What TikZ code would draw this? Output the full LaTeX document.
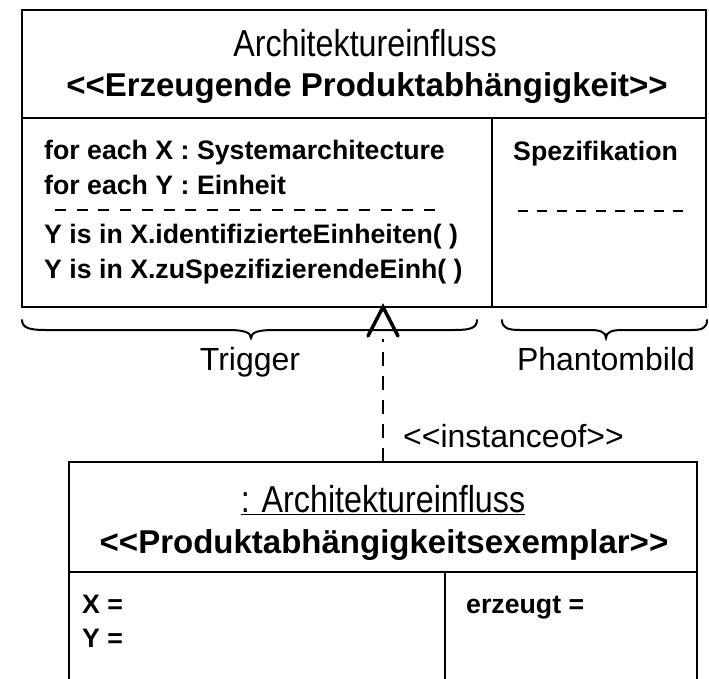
\documentclass[tikz,border=0pt]{standalone}
\usepackage{fontspec}
\usetikzlibrary{calc}
\setmainfont{Liberation Sans}[Ligatures=TeXOff]
\newfontfamily\narrowfont{Liberation Sans}[FakeStretch=0.86, Ligatures=TeXOff]
\begin{document}
\begin{tikzpicture}[x=1pt,y=-1pt,
  boxline/.style={line width=2.2pt},
  dashsepl/.style={line width=2.6pt, dash pattern=on 11pt off 10.7pt},
  dashsepr/.style={line width=2.6pt, dash pattern=on 10pt off 9.4pt},
  titletext/.style={inner sep=0pt, anchor=base, font=\narrowfont\fontsize{37.5}{40}\selectfont},
  hdrtext/.style={inner sep=0pt, anchor=base, font=\bfseries\fontsize{33}{36}\selectfont},
  bodytext/.style={inner sep=0pt, anchor=base west, font=\bfseries\fontsize{26.7}{30}\selectfont},
  labeltext/.style={inner sep=0pt, anchor=base, font=\fontsize{32}{35}\selectfont},
  bracestyle/.style={line width=2pt, line cap=round},
]
\useasboundingbox (0,0) rectangle (709,679);
% top class box
\draw[boxline] (22,10) rectangle (706,307);
\draw[boxline] (22,118) -- (706,118);
\draw[boxline] (492,118) -- (492,307);
\node[titletext] (title) at (365,57) {Architektureinfluss};
\node[hdrtext] (hdr) at (367,97) {<<Erzeugende Produktabhängigkeit>>};
\node[bodytext] (l1) at (44,160) {for each X : Systemarchitecture};
\node[bodytext] (l2) at (44,195) {for each Y : Einheit};
\draw[dashsepl] (55,210) -- (445,210);
\node[bodytext] (l3) at (44,243) {Y is in X.identifizierteEinheiten( )};
\node[bodytext] (l4) at (44,278) {Y is in X.zuSpezifizierendeEinh( )};
\node[bodytext] (spez) at (513,161) {Spezifikation};
\draw[dashsepr] (518,211) -- (684,211);
% braces
\draw[bracestyle] (22,320) .. controls (22,328) and (30,330) .. (45,330) -- (228,330) .. controls (243,330) and (251,332) .. (251,338) .. controls (251,332) and (259,330) .. (274,330) -- (455,330) .. controls (470,330) and (477,328) .. (477,320);
\draw[bracestyle] (502,320) .. controls (502,328) and (508,330) .. (520,330) -- (590,330) .. controls (600,330) and (606,332) .. (606,338) .. controls (606,332) and (612,330) .. (622,330) -- (692,330) .. controls (702,330) and (707,328) .. (707,320);
\node[labeltext] (trig) at (250,370) {Trigger};
\node[labeltext] (phan) at (606,370) {Phantombild};
% bottom object box
\draw[boxline] (69,690) -- (69,462) -- (697,462) -- (697,690);
\draw[boxline] (69,572) -- (697,572);
\draw[boxline] (445,572) -- (445,690);
\node[titletext] (otitle) at (383,512) {\underline{: Architektureinfluss}};
\node[hdrtext] (ohdr) at (384,553) {<<Produktabhängigkeitsexemplar>>};
\node[bodytext] (ox) at (82,613) {X =};
\node[bodytext] (oy) at (82,647) {Y =};
\node[bodytext] (oe) at (466,613) {erzeugt =};
% instanceof dependency
\coordinate (src) at (383,462);
\coordinate (dst) at (383,307);
\draw[line width=1.6pt, dash pattern=on 14pt off 10pt] (src) -- ($(dst)+(0,32)$);
\draw[line width=3.5pt, line cap=round, line join=miter] (368,336) -- (dst) -- (398,336);
\node[labeltext, anchor=base west] (inst) at (403,447) {<<instanceof>>};
\end{tikzpicture}
\end{document}
